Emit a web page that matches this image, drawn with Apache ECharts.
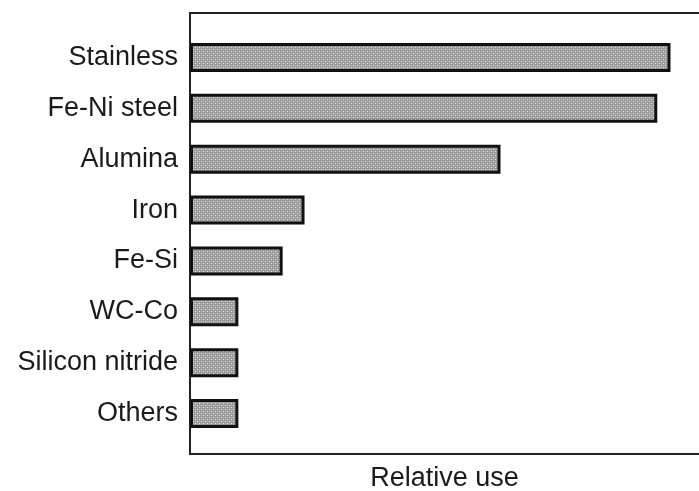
<!DOCTYPE html>
<html>
<head>
<meta charset="utf-8">
<script src="https://cdn.jsdelivr.net/npm/echarts@6/dist/echarts.min.js"></script>
<style>
html,body{margin:0;padding:0;background:#fff;}
#chart{width:699px;height:491px;}
</style>
</head>
<body>
<div id="chart"></div>
<script>
var categories = ['Stainless', 'Fe-Ni steel', 'Alumina', 'Iron', 'Fe-Si', 'WC-Co', 'Silicon nitride', 'Others'];
var relativeUse = [94.4, 91.8, 61.0, 22.5, 18.2, 9.5, 9.5, 9.5];
var axisTitle = 'Relative use';

// dithered gray fill
var pc = document.createElement('canvas');
pc.width = 4; pc.height = 4;
var g = pc.getContext('2d');
g.fillStyle = '#a6a6a6'; g.fillRect(0, 0, 4, 4);
g.fillStyle = '#8e8e8e';
g.fillRect(0, 0, 1, 1); g.fillRect(2, 2, 1, 1); g.fillRect(2, 0, 1, 1); g.fillRect(0, 2, 1, 1);
g.fillStyle = '#dcdcdc';
g.fillRect(1, 1, 1, 1); g.fillRect(3, 3, 1, 1);

var chart = echarts.init(document.getElementById('chart'), null, {renderer: 'canvas'});
var font = 'Liberation Sans, Arial, Helvetica, sans-serif';
var frameLine = {show: true, lineStyle: {color: '#222', width: 2}};
chart.setOption({
  animation: false,
  backgroundColor: '#fff',
  grid: [
    {left: 190, top: 13, width: 509, height: 441, outerBoundsMode: 'none', containLabel: false},
    {left: 190, top: 32, width: 509, height: 407, outerBoundsMode: 'none', containLabel: false}
  ],
  xAxis: [
    {gridIndex: 0, type: 'value', position: 'bottom', min: 0, max: 1,
      axisLine: frameLine, axisTick: {show: false}, axisLabel: {show: false}, splitLine: {show: false}},
    {gridIndex: 0, type: 'value', position: 'top', min: 0, max: 1,
      axisLine: frameLine, axisTick: {show: false}, axisLabel: {show: false}, splitLine: {show: false}},
    {gridIndex: 1, type: 'value', min: 0, max: 100,
      axisLine: {show: false}, axisTick: {show: false}, axisLabel: {show: false}, splitLine: {show: false},
      name: axisTitle, nameLocation: 'middle', nameGap: 26,
      nameTextStyle: {fontFamily: font, fontSize: 27, color: '#1a1a1a'}}
  ],
  yAxis: [
    {gridIndex: 0, type: 'value', position: 'left', min: 0, max: 1,
      axisLine: frameLine, axisTick: {show: false}, axisLabel: {show: false}, splitLine: {show: false}},
    {gridIndex: 1, type: 'category', data: categories, inverse: true,
      axisLine: {show: false}, axisTick: {show: false}, splitLine: {show: false},
      axisLabel: {fontFamily: font, fontSize: 27, color: '#1a1a1a', margin: 12}}
  ],
  series: [{
    type: 'bar',
    xAxisIndex: 2, yAxisIndex: 1,
    data: relativeUse,
    barWidth: 29,
    itemStyle: {color: {image: pc, repeat: 'repeat'}, borderColor: '#111', borderWidth: 3}
  }]
});
</script>
</body>
</html>
